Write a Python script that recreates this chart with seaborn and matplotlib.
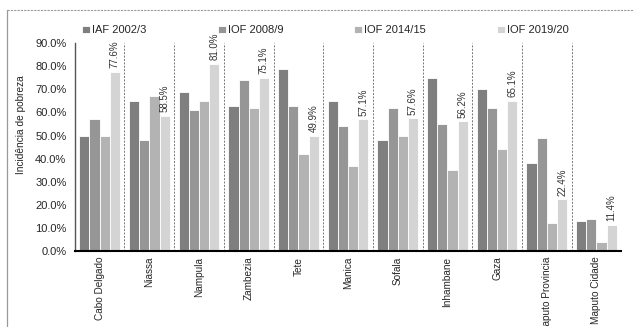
import matplotlib
matplotlib.use("Agg")
import matplotlib.pyplot as plt
from matplotlib.lines import Line2D
from matplotlib.ticker import PercentFormatter, MultipleLocator
import pandas as pd
import seaborn as sns

provinces = ["Cabo Delgado", "Niassa", "Nampula", "Zambezia", "Tete", "Manica",
             "Sofala", "Inhambane", "Gaza", "Maputo Provincia", "Maputo Cidade"]
surveys = ["IAF 2002/3", "IOF 2008/9", "IOF 2014/15", "IOF 2019/20"]
iaf_2002 = [50.0, 65.0, 69.0, 63.0, 79.0, 65.0, 48.0, 75.0, 70.0, 38.0, 13.0]
iof_2008 = [57.0, 48.0, 61.0, 74.0, 63.0, 54.0, 62.0, 55.0, 62.0, 49.0, 14.0]
iof_2014 = [50.0, 67.0, 65.0, 62.0, 42.0, 37.0, 50.0, 35.0, 44.0, 12.0, 4.0]
iof_2019 = [77.6, 58.5, 81.0, 75.1, 49.9, 57.1, 57.6, 56.2, 65.1, 22.4, 11.4]
colors = ["#7f7f7f", "#969696", "#b3b3b3", "#d4d4d4"]

df = pd.DataFrame({
    "provincia": provinces * 4,
    "inquerito": [s for s in surveys for _ in provinces],
    "valor": iaf_2002 + iof_2008 + iof_2014 + iof_2019,
})

sns.set_style("white")
plt.rcParams["font.family"] = ["Liberation Sans", "DejaVu Sans"]

fig = plt.figure(figsize=(6.34, 3.27), dpi=100)
ax = fig.add_axes([0.118, 0.232, 0.862, 0.636])

sns.barplot(data=df, x="provincia", y="valor", hue="inquerito", hue_order=surveys,
            palette=colors, width=0.82, edgecolor="white", linewidth=0.6,
            saturation=1, ax=ax, legend=True)

# labels on the latest survey
last = ax.containers[3]
for rect, v in zip(last, iof_2019):
    ax.text(rect.get_x() + rect.get_width() / 2, rect.get_height() + 1.5,
            f"{v:.1f}%", rotation=90, ha="center", va="bottom",
            fontsize=7, color="#333333")

# dashed separators between provinces
for i in range(len(provinces)):
    ax.axvline(i + 0.5, color="#777777", linestyle=(0, (2, 1.5)), linewidth=0.7)

ax.set_xlim(-0.5, len(provinces) - 0.5)
ax.set_ylim(0, 90)
ax.yaxis.set_major_locator(MultipleLocator(10))
ax.yaxis.set_major_formatter(PercentFormatter(decimals=1))
ax.set_xlabel("")
ax.set_ylabel("Incidência de pobreza", fontsize=7.3)
ax.yaxis.set_label_coords(-0.09, 0.61)
ax.tick_params(axis="y", labelsize=8, length=0, pad=6)
ax.tick_params(axis="x", labelsize=7.2, length=0, pad=4)
plt.setp(ax.get_xticklabels(), rotation=90)

for s in ["top", "right"]:
    ax.spines[s].set_visible(False)
ax.spines["left"].set_color("#555555")
ax.spines["left"].set_linewidth(1.0)
ax.spines["bottom"].set_color("black")
ax.spines["bottom"].set_linewidth(1.5)

ax.legend(loc="lower center", bbox_to_anchor=(0.459, 1.0), ncol=4, frameon=False,
          fontsize=8, handlelength=0.7, handleheight=0.7, handletextpad=0.2,
          columnspacing=6.4, borderaxespad=0.3)

# outer frame: dashed top edge, solid left edge
fig.add_artist(Line2D([0.011, 1.0], [0.969, 0.969], transform=fig.transFigure,
                      color="#999999", linewidth=0.8, linestyle=(0, (2, 1))))
fig.add_artist(Line2D([0.011, 0.011], [0.0, 0.969], transform=fig.transFigure,
                      color="#999999", linewidth=0.9))

fig.savefig("out.png", dpi=100)
